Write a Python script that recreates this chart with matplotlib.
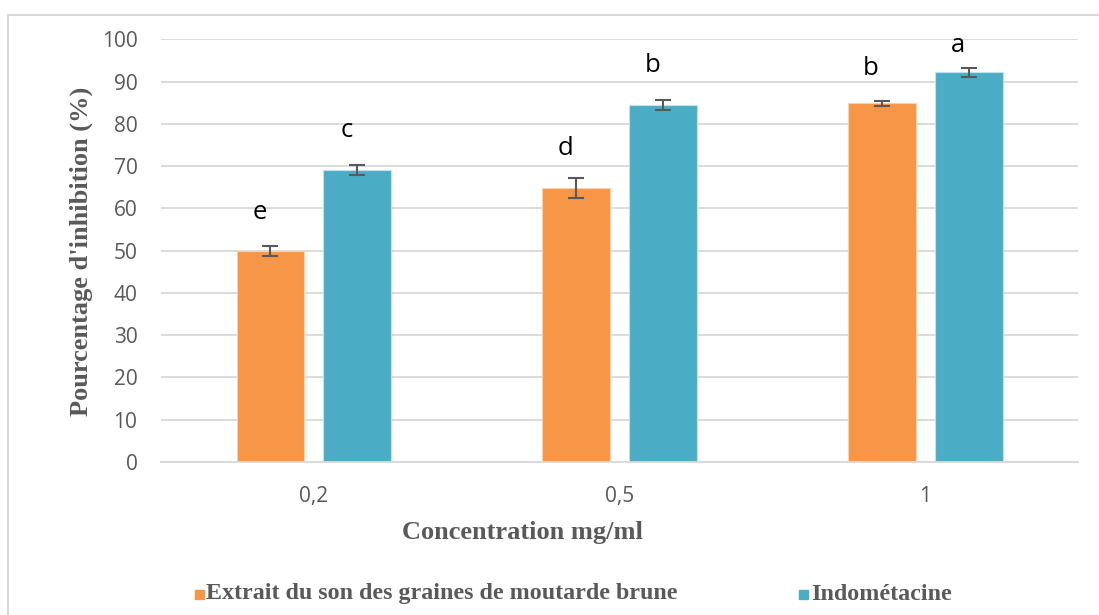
import numpy as np
import matplotlib
matplotlib.use("Agg")
import matplotlib.pyplot as plt
from matplotlib.patches import Rectangle
from matplotlib.lines import Line2D

# concentrations (mg/ml) and inhibition results
concentrations = ["0,2", "0,5", "1"]
extrait = [50.0, 64.9, 84.9]
extrait_err = [1.2, 2.4, 0.6]
indometacine = [69.1, 84.5, 92.2]
indometacine_err = [1.1, 1.1, 1.1]
extrait_letters = ["e", "d", "b"]
indometacine_letters = ["c", "b", "a"]

series_names = ["Extrait du son des graines de moutarde brune", "Indométacine"]

ORANGE = "#F79646"
TEAL = "#4BACC6"
GREY = "#595959"
GRID = "#D9D9D9"

sans = ["Open Sans", "DejaVu Sans"]
serif = ["Liberation Serif", "DejaVu Serif"]

fig = plt.figure(figsize=(10.99, 6.15), dpi=100)
ax = fig.add_axes([0.1465, 0.2488, 0.8344, 0.687])

x = np.arange(len(concentrations))
width = 0.222
shift = 0.142

ax.bar(x - shift, extrait, width, color=ORANGE, edgecolor="#FBD3B4", linewidth=0.8, zorder=2)
ax.bar(x + shift, indometacine, width, color=TEAL, edgecolor="#BFE3EC", linewidth=0.8, zorder=2)
ax.errorbar(x - shift, extrait, yerr=extrait_err, fmt="none", ecolor=GREY,
            elinewidth=1.5, capsize=6, capthick=1.5, zorder=3)
ax.errorbar(x + shift, indometacine, yerr=indometacine_err, fmt="none", ecolor=GREY,
            elinewidth=1.5, capsize=6, capthick=1.5, zorder=3)

# significance letters above the bars
label_gap_a = [9.0, 9.3, 8.2]
label_gap_b = [9.4, 9.4, 6.4]
for i in range(len(x)):
    ax.text(x[i] - shift - 0.035, extrait[i] + label_gap_a[i], extrait_letters[i],
            ha="center", va="center", fontsize=18.5, color="black", family=sans)
    ax.text(x[i] + shift - 0.035, indometacine[i] + label_gap_b[i], indometacine_letters[i],
            ha="center", va="center", fontsize=18.5, color="black", family=sans)

ax.set_xlim(-0.5, 2.5)
ax.set_ylim(0, 100)
ax.set_yticks(np.arange(0, 101, 10))
ax.set_xticks(x)
ax.set_xticklabels(concentrations)
ax.yaxis.grid(True, color=GRID, linewidth=1.3, zorder=0)
ax.set_axisbelow(True)
for side in ["left", "right", "top"]:
    ax.spines[side].set_visible(False)
ax.spines["bottom"].set_color(GRID)
ax.spines["bottom"].set_linewidth(1.3)
ax.tick_params(axis="both", length=0, colors=GREY, labelsize=15)
ax.tick_params(axis="y", pad=17)
ax.tick_params(axis="x", pad=17)
for lab in ax.get_xticklabels() + ax.get_yticklabels():
    lab.set_family(sans)

fig.text(0.074, 0.5915, "Pourcentage d'inhibition (%)", rotation=90, ha="center", va="center",
         fontsize=19, fontweight="bold", color=GREY, family=serif)
fig.text(0.475, 1 - 533 / 615, "Concentration mg/ml", ha="center", va="center",
         fontsize=19, fontweight="bold", color=GREY, family=serif)

# legend drawn by hand along the bottom
fig.patches.append(Rectangle((195 / 1099, 1 - 599 / 615), 9 / 1099, 9 / 615,
                             transform=fig.transFigure, color=ORANGE))
fig.text(206 / 1099, 1 - 594 / 615, series_names[0], ha="left", va="center",
         fontsize=17.3, fontweight="bold", color=GREY, family=serif)
fig.patches.append(Rectangle((799 / 1099, 1 - 599 / 615), 9 / 1099, 9 / 615,
                             transform=fig.transFigure, color=TEAL))
fig.text(811 / 1099, 1 - 594 / 615, series_names[1], ha="left", va="center",
         fontsize=17.3, fontweight="bold", color=GREY, family=serif)

# chart frame (top and left edges)
fig.lines.append(Line2D([8 / 1099, 1.0], [1 - 15 / 615] * 2, transform=fig.transFigure,
                        color=GRID, linewidth=1.5))
fig.lines.append(Line2D([8 / 1099] * 2, [0.0, 1 - 15 / 615], transform=fig.transFigure,
                        color=GRID, linewidth=1.5))

fig.savefig("out.png", dpi=100)
